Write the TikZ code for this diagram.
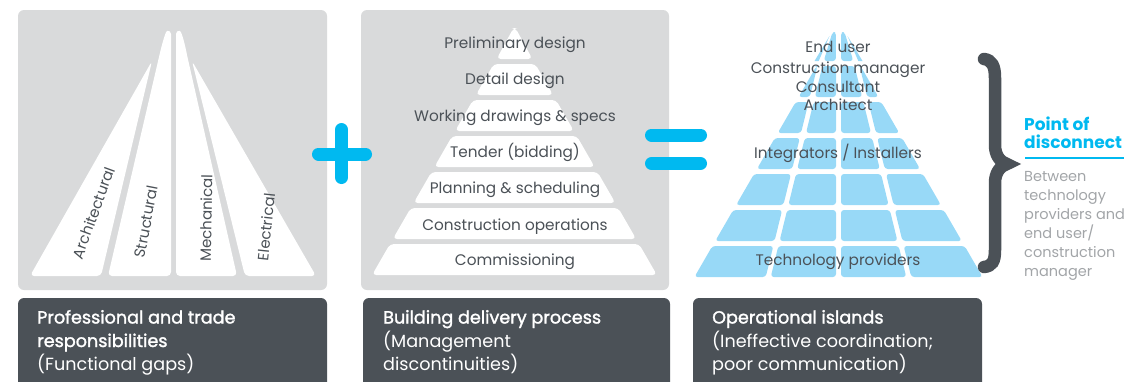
\documentclass[tikz,border=0pt]{standalone}
\usepackage{graphicx}
\usepackage{fontspec}
\setmainfont{Poppins}
\newfontfamily\medfont[FakeBold=1.6]{Poppins}
\definecolor{panel}{HTML}{D9DADB}
\definecolor{dark}{HTML}{4B5157}
\definecolor{cyanb}{HTML}{00B9F0}
\definecolor{tileblue}{HTML}{98D9F7}
\definecolor{greytext}{HTML}{A2A5A8}
\begin{document}
\begin{tikzpicture}[x=1pt,y=-1pt,
  panelbox/.style={fill=panel, rounded corners=6pt},
  darkbox/.style={fill=dark, rounded corners=6pt},
  wedge/.style={fill=white, rounded corners=4pt},
  layer/.style={fill=white, rounded corners=4pt},
  tile/.style={fill=tileblue, rounded corners=3pt},
  wlabel/.style={text=dark, font=\fontsize{15}{15}\selectfont, inner sep=0pt},
  plabel/.style={text=dark, font=\fontsize{15.3}{15.3}\selectfont, anchor=base, inner sep=0pt},
  boxhead/.style={text=white, font=\fontsize{17.6}{17.6}\selectfont\medfont, anchor=base west, inner sep=0pt},
  boxsub/.style={text=white, font=\fontsize{17.6}{17.6}\selectfont, anchor=base west, inner sep=0pt},
  sign/.style={draw=cyanb, line width=13pt, line cap=round},
  cyanhead/.style={text=cyanb, font=\fontsize{17}{17}\selectfont\bfseries, anchor=base west, inner sep=0pt},
  greysub/.style={text=greytext, font=\fontsize{14.5}{14.5}\selectfont, anchor=base west, inner sep=0pt}
]
\useasboundingbox (0,0) rectangle (1130,381);
% panels
\fill[panelbox] (18,10) rectangle (327,290);
\fill[panelbox] (361,10) rectangle (669,290);
% dark boxes
\fill[darkbox] (18,298) rectangle (327,395);
\fill[darkbox] (363,298) rectangle (670,395);
\fill[darkbox] (693,298) rectangle (982,395);

% panel 1 wedges
\fill[wedge] (30,276) -- (152,61) -- (101,276) -- cycle;
\fill[wedge] (108,276) -- (159,57) .. controls (163,40) and (166,31) .. (171,30) -- (171,276) -- cycle;
\fill[wedge] (176,276) -- (176,30) .. controls (181,31) and (184,40) .. (187,55) -- (237,276) -- cycle;
\fill[wedge] (245,276) -- (192,61) -- (316,276) -- cycle;
\node[wlabel] (arch) at (93.5,213) {\rotatebox{70}{Architectural}};
\node[wlabel] (struct) at (146,222) {\rotatebox{79}{Structural}};
\node[wlabel] (mech) at (206,218) {\rotatebox{89}{Mechanical}};
\node[wlabel] (elec) at (266,227) {\rotatebox{84}{Electrical}};

% plus and equals
\draw[sign] (341.5,129.5) -- (341.5,177.5);
\draw[sign] (318.5,154) -- (365.5,154);
\draw[sign] (651.5,135) -- (700.5,135);
\draw[sign] (651.5,163.5) -- (700.5,163.5);

% panel 2 pyramid
\foreach \k in {0,...,6} {
  \pgfmathsetmacro\yt{28+36*\k}
  \pgfmathsetmacro\yb{\yt+31}
  \pgfmathsetmacro\wt{max(0.5766*(\yt-28),1)}
  \pgfmathsetmacro\wb{0.5766*(\yb-28)}
  \pgfmathsetmacro\xa{514.5-\wb}
  \pgfmathsetmacro\xb{514.5+\wb}
  \pgfmathsetmacro\xc{514.5+\wt}
  \pgfmathsetmacro\xd{514.5-\wt}
  \fill[layer] (\xa,\yb) -- (\xb,\yb) -- (\xc,\yt) -- (\xd,\yt) -- cycle;
}
\node[plabel] (l1) at (515,48) {Preliminary design};
\node[plabel] (l2) at (515,84) {Detail design};
\node[plabel] (l3) at (515,121) {Working drawings \& specs};
\node[plabel] (l4) at (515,157) {Tender (bidding)};
\node[plabel] (l5) at (515,193) {Planning \& scheduling};
\node[plabel] (l6) at (515,230) {Construction operations};
\node[plabel] (l7) at (515,265) {Commissioning};

% panel 3 tiles
\fill[tile] (823.7,61) -- (835.9,61) -- (835.9,32) -- (832.5,32) -- cycle;
\fill[tile] (853.3,61) -- (841.1,61) -- (841.1,32) -- (844.5,32) -- cycle;
\fill[tileblue] (814.5,61) -- (818.7,61) -- (829.5,36) -- cycle;
\fill[tileblue] (862.5,61) -- (858.3,61) -- (847.5,36) -- cycle;
\foreach \yt in {66,102,138,174,210,246} {
  \pgfmathsetmacro\yb{\yt+31}
  \pgfmathsetmacro\wt{0.5786*(\yt-28)}
  \pgfmathsetmacro\wb{0.5786*(\yb-28)}
  \pgfmathsetmacro\dt{2.4+0.245*\yt}
  \pgfmathsetmacro\db{2.4+0.245*\yb}
  \pgfmathsetmacro\ot{min(\dt+2.5,\wt-0.5)}
  \foreach \s in {-1,1} {
    \pgfmathsetmacro\xa{838.5+\s*\wb}
    \pgfmathsetmacro\xb{838.5+\s*(\db+2.5)}
    \pgfmathsetmacro\xc{838.5+\s*\ot}
    \pgfmathsetmacro\xd{838.5+\s*\wt}
    \pgfmathsetmacro\xe{838.5+\s*(\db-2.5)}
    \pgfmathsetmacro\xf{838.5+\s*2.5}
    \pgfmathsetmacro\xg{838.5+\s*(\dt-2.5)}
    \fill[tile] (\xa,\yb) -- (\xb,\yb) -- (\xc,\yt) -- (\xd,\yt) -- cycle;
    \fill[tile] (\xe,\yb) -- (\xf,\yb) -- (\xf,\yt) -- (\xg,\yt) -- cycle;
  }
}
\node[plabel] (o1) at (838,52) {End user};
\node[plabel] (o2) at (838,73) {Construction manager};
\node[plabel] (o3) at (838,92) {Consultant};
\node[plabel] (o4) at (838,110) {Architect};
\node[plabel] (o5) at (838,158) {Integrators / Installers};
\node[plabel] (o6) at (838,265) {Technology providers};

% brace
\draw[dark, line width=12.5pt, line cap=round]
  (984,59) .. controls (992,60) and (995,66) .. (995,78) -- (995,145)
  .. controls (995,155) and (1000,162) .. (1007,164)
  .. controls (1000,166) and (995,173) .. (995,183) -- (995,250)
  .. controls (995,262) and (992,266) .. (984,267);

% point of disconnect
\node[cyanhead] (p1) at (1024,130) {Point of};
\node[cyanhead] (p2) at (1024,148) {disconnect};
\draw[cyanb, line width=2.5pt] (1025,158) -- (1124,158);
\node[greysub] (g1) at (1024,181) {Between};
\node[greysub] (g2) at (1024,200) {technology};
\node[greysub] (g3) at (1024,219) {providers and};
\node[greysub] (g4) at (1024,238) {end user/};
\node[greysub] (g5) at (1024,257) {construction};
\node[greysub] (g6) at (1024,276) {manager};

% dark box texts
\node[boxhead] (b1a) at (37,323.5) {Professional and trade};
\node[boxhead] (b1b) at (37,347) {responsibilities};
\node[boxsub] (b1c) at (37,370) {(Functional gaps)};
\node[boxhead] (b2a) at (383,323.5) {Building delivery process};
\node[boxsub] (b2b) at (383,347) {(Management};
\node[boxsub] (b2c) at (383,370) {discontinuities)};
\node[boxhead] (b3a) at (712,323.5) {Operational islands};
\node[boxsub] (b3b) at (712,347) {(Ineffective coordination;};
\node[boxsub] (b3c) at (712,370) {poor communication)};
\end{tikzpicture}
\end{document}
